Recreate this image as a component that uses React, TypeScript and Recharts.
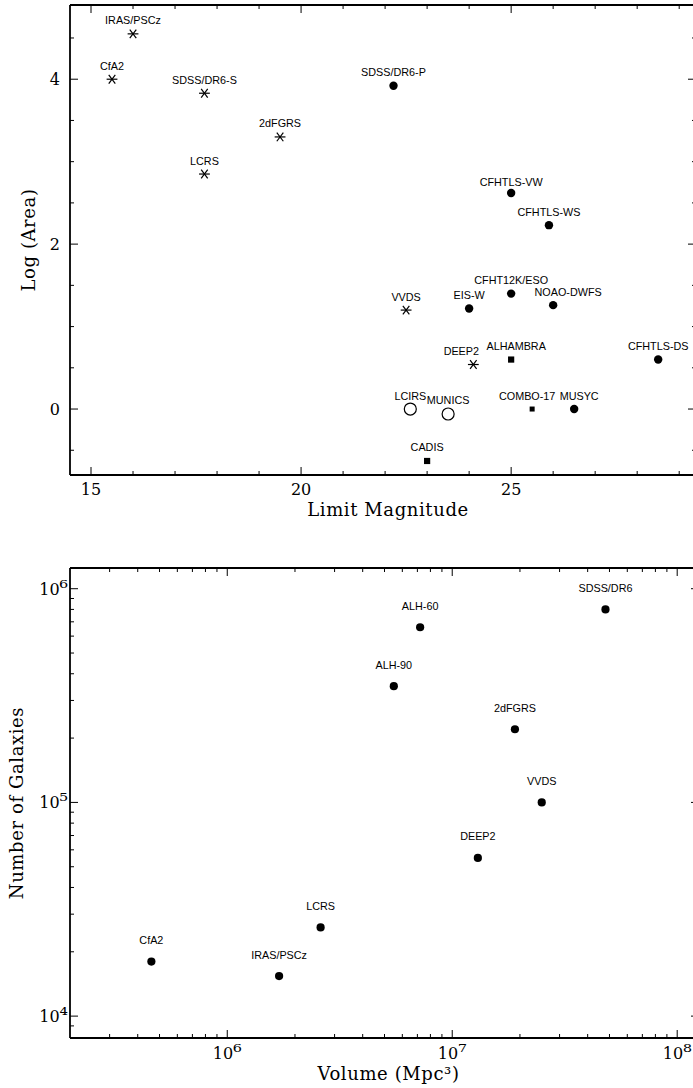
import React from 'react';
import { ScatterChart, Scatter, XAxis, YAxis } from 'recharts';

// ---------------- Top panel: limit magnitude vs log(area) ----------------
const spectroNames = ['IRAS/PSCz', 'CfA2', 'SDSS/DR6-S', '2dFGRS', 'LCRS', 'VVDS', 'DEEP2'];
const spectroMag = [16.0, 15.5, 17.7, 19.5, 17.7, 22.5, 24.1];
const spectroLogArea = [4.55, 4.0, 3.83, 3.3, 2.85, 1.2, 0.54];

const broadNames = ['SDSS/DR6-P', 'CFHTLS-VW', 'CFHTLS-WS', 'EIS-W', 'CFHT12K/ESO', 'NOAO-DWFS', 'CFHTLS-DS', 'MUSYC'];
const broadMag = [22.2, 25.0, 25.9, 24.0, 25.0, 26.0, 28.5, 26.5];
const broadLogArea = [3.92, 2.62, 2.23, 1.22, 1.4, 1.26, 0.6, 0.0];

const mediumNames = ['ALHAMBRA', 'COMBO-17', 'CADIS'];
const mediumMag = [25.0, 25.5, 23.0];
const mediumLogArea = [0.6, 0.0, -0.63];

const nirNames = ['LCIRS', 'MUNICS'];
const nirMag = [22.6, 23.5];
const nirLogArea = [0.0, -0.06];

const magDomain = [14.5, 29.4];
const magTicks = [15, 16, 17, 18, 19, 20, 21, 22, 23, 24, 25, 26, 27, 28, 29];
const magMajor = [15, 20, 25];
const magLabels = ['15', '20', '25'];

const areaDomain = [-0.8, 4.9];
const areaTicks = [-0.5, 0, 0.5, 1, 1.5, 2, 2.5, 3, 3.5, 4, 4.5];
const areaMajor = [0, 2, 4];
const areaLabels = ['0', '2', '4'];

// ---------------- Bottom panel: volume vs number of galaxies ----------------
const volNames = ['CfA2', 'IRAS/PSCz', 'LCRS', 'ALH-90', 'ALH-60', 'SDSS/DR6', '2dFGRS', 'VVDS', 'DEEP2'];
const volume = [4.6e5, 1.7e6, 2.6e6, 5.5e6, 7.2e6, 4.8e7, 1.9e7, 2.5e7, 1.3e7];
const galaxies = [1.8e4, 1.54e4, 2.6e4, 3.5e5, 6.6e5, 8.0e5, 2.2e5, 1.0e5, 5.5e4];

const volDomain = [2e5, 1.25e8];
const volTicks = [
  3e5, 4e5, 5e5, 6e5, 7e5, 8e5, 9e5, 1e6,
  2e6, 3e6, 4e6, 5e6, 6e6, 7e6, 8e6, 9e6, 1e7,
  2e7, 3e7, 4e7, 5e7, 6e7, 7e7, 8e7, 9e7, 1e8,
];
const volMajor = [1e6, 1e7, 1e8];
const volLabelBase = ['10', '10', '10'];
const volLabelExp = ['⁶', '⁷', '⁸'];

const galDomain = [7.9e3, 1.25e6];
const galTicks = [
  9e3, 1e4, 2e4, 3e4, 4e4, 5e4, 6e4, 7e4, 8e4, 9e4, 1e5,
  2e5, 3e5, 4e5, 5e5, 6e5, 7e5, 8e5, 9e5, 1e6,
];
const galMajor = [1e4, 1e5, 1e6];
const galLabelBase = ['10', '10', '10'];
const galLabelExp = ['⁴', '⁵', '⁶'];

// ---------------- styling / layout ----------------
const SERIF = "'DejaVu Serif', 'Liberation Serif', serif";
const SANS = "'Liberation Sans', Arial, Helvetica, sans-serif";
const axisLine = { stroke: '#000', strokeWidth: 1.8 };

const topLabelDx: Record<string, number> = {
  'NOAO-DWFS': 15,
  DEEP2: -12,
  ALHAMBRA: 5,
  'COMBO-17': -5,
  MUSYC: 5,
};
const topLabelDy: Record<string, number> = { 'CFHTLS-VW': -7 };
const smallSquares: Record<string, boolean> = { 'COMBO-17': true };

const zip = (names: string[], xs: number[], ys: number[]) =>
  names.map((name, i) => ({ name, x: xs[i], y: ys[i] }));

const spectroData = zip(spectroNames, spectroMag, spectroLogArea);
const broadData = zip(broadNames, broadMag, broadLogArea);
const mediumData = zip(mediumNames, mediumMag, mediumLogArea);
const nirData = zip(nirNames, nirMag, nirLogArea);
const volData = zip(volNames, volume, galaxies);

type Side = 'bottom' | 'top' | 'left' | 'right';

const findMajor = (majors: number[], v: number) =>
  majors.findIndex((m) => Math.abs(m - v) <= 1e-6 * Math.max(1, Math.abs(m)));

const makeTick =
  (side: Side, majors: number[], base: string[] | null, exp: string[] | null, labelOffset: number) =>
  (props: any) => {
    const { x, y, payload } = props;
    const idx = findMajor(majors, payload.value);
    const len = idx >= 0 ? 8 : 4;
    let line: React.ReactNode = null;
    if (side === 'bottom') line = <line x1={x} y1={y} x2={x} y2={y - len} />;
    if (side === 'top') line = <line x1={x} y1={y} x2={x} y2={y + len} />;
    if (side === 'left') line = <line x1={x} y1={y} x2={x + len} y2={y} />;
    if (side === 'right') line = <line x1={x} y1={y} x2={x - len} y2={y} />;
    let text: React.ReactNode = null;
    if (base && idx >= 0) {
      const content = (
        <>
          {base[idx]}
          {exp ? <tspan fontSize={21}>{exp[idx]}</tspan> : null}
        </>
      );
      if (side === 'bottom') {
        text = (
          <text x={x} y={y + labelOffset} textAnchor="middle" fontFamily={SERIF} fontSize={16} fill="#000" stroke="none">
            {content}
          </text>
        );
      } else if (side === 'left') {
        text = (
          <text x={x - (exp ? 2 : 10)} y={y + labelOffset} textAnchor="end" fontFamily={SERIF} fontSize={16} fill="#000" stroke="none">
            {content}
          </text>
        );
      }
    }
    return (
      <g stroke="#000" strokeWidth={1}>
        {line}
        {text}
      </g>
    );
  };

const labelText = (cx: number, cy: number, name: string, dx: number, dy: number) => (
  <text x={cx + dx} y={cy + dy} textAnchor="middle" fontFamily={SANS} fontSize={10.8} fill="#000">
    {name}
  </text>
);

const topLabel = (cx: number, cy: number, name: string) =>
  labelText(cx, cy, name, topLabelDx[name] ?? 0, topLabelDy[name] ?? -9.5);

const StarShape = (props: any) => {
  const { cx, cy, payload } = props;
  const r = 5.4;
  const a = r * Math.cos(Math.PI / 3.4);
  const b = r * Math.sin(Math.PI / 3.4);
  return (
    <g>
      <g stroke="#000" strokeWidth={1.2}>
        <line x1={cx - r} y1={cy} x2={cx + r} y2={cy} />
        <line x1={cx - a} y1={cy - b} x2={cx + a} y2={cy + b} />
        <line x1={cx - a} y1={cy + b} x2={cx + a} y2={cy - b} />
      </g>
      {topLabel(cx, cy, payload.name)}
    </g>
  );
};

const DotShape = (props: any) => {
  const { cx, cy, payload } = props;
  return (
    <g>
      <circle cx={cx} cy={cy} r={4.2} fill="#000" />
      {topLabel(cx, cy, payload.name)}
    </g>
  );
};

const SquareShape = (props: any) => {
  const { cx, cy, payload } = props;
  const s = smallSquares[payload.name] ? 5 : 6.2;
  return (
    <g>
      <rect x={cx - s / 2} y={cy - s / 2} width={s} height={s} fill="#000" />
      {topLabel(cx, cy, payload.name)}
    </g>
  );
};

const RingShape = (props: any) => {
  const { cx, cy, payload } = props;
  return (
    <g>
      <circle cx={cx} cy={cy} r={6} fill="#fff" stroke="#000" strokeWidth={1.2} />
      {topLabel(cx, cy, payload.name)}
    </g>
  );
};

const VolDotShape = (props: any) => {
  const { cx, cy, payload } = props;
  return (
    <g>
      <circle cx={cx} cy={cy} r={4.1} fill="#000" />
      {labelText(cx, cy, payload.name, 0, -17.5)}
    </g>
  );
};

const Empty = () => <g />;

const axisCommon = {
  type: 'number' as const,
  allowDataOverflow: true,
  interval: 0 as const,
  tickLine: false,
  tickSize: 0,
  tickMargin: 0,
  axisLine,
};

const TopChart = () => (
  <ScatterChart width={700} height={530} margin={{ top: 0, right: 0, bottom: 0, left: 0 }}>
    <XAxis
      {...axisCommon}
      xAxisId="b"
      dataKey="x"
      domain={magDomain}
      ticks={magTicks}
      height={55}
      tick={makeTick('bottom', magMajor, magLabels, null, 20)}
      label={{
        value: 'Limit Magnitude',
        position: 'insideBottom',
        offset: 14,
        dx: 5,
        fontFamily: SERIF,
        fontSize: 18,
        letterSpacing: 0.6,
        fill: '#000',
      }}
    />
    <XAxis
      {...axisCommon}
      xAxisId="t"
      orientation="top"
      dataKey="x"
      domain={magDomain}
      ticks={magTicks}
      height={5}
      tick={makeTick('top', magMajor, null, null, 0)}
    />
    <YAxis
      {...axisCommon}
      yAxisId="l"
      dataKey="y"
      domain={areaDomain}
      ticks={areaTicks}
      width={70}
      tick={makeTick('left', areaMajor, areaLabels, null, 6)}
      label={{
        value: 'Log (Area)',
        position: 'center',
        angle: -90,
        dx: -6,
        textAnchor: 'middle',
        fontFamily: SERIF,
        fontSize: 18,
        letterSpacing: 0.6,
        fill: '#000',
      }}
    />
    <YAxis
      {...axisCommon}
      yAxisId="r"
      orientation="right"
      dataKey="y"
      domain={areaDomain}
      ticks={areaTicks}
      width={4}
      tick={makeTick('right', areaMajor, null, null, 0)}
    />
    <Scatter xAxisId="b" yAxisId="l" data={spectroData} shape={StarShape} isAnimationActive={false} />
    <Scatter xAxisId="b" yAxisId="l" data={broadData} shape={DotShape} isAnimationActive={false} />
    <Scatter xAxisId="b" yAxisId="l" data={mediumData} shape={SquareShape} isAnimationActive={false} />
    <Scatter xAxisId="b" yAxisId="l" data={nirData} shape={RingShape} isAnimationActive={false} />
    <Scatter xAxisId="t" yAxisId="r" data={spectroData} shape={Empty} isAnimationActive={false} />
  </ScatterChart>
);

const BottomChart = () => (
  <ScatterChart width={700} height={548} margin={{ top: 0, right: 0, bottom: 0, left: 0 }}>
    <XAxis
      {...axisCommon}
      xAxisId="b"
      dataKey="x"
      scale="log"
      domain={volDomain}
      ticks={volTicks}
      height={50}
      tick={makeTick('bottom', volMajor, volLabelBase, volLabelExp, 21)}
      label={{
        value: 'Volume (Mpc³)',
        position: 'insideBottom',
        offset: 8,
        dx: 4,
        fontFamily: SERIF,
        fontSize: 18,
        letterSpacing: 0.6,
        fill: '#000',
      }}
    />
    <XAxis
      {...axisCommon}
      xAxisId="t"
      orientation="top"
      dataKey="x"
      scale="log"
      domain={volDomain}
      ticks={volTicks}
      height={28}
      tick={makeTick('top', volMajor, null, null, 0)}
    />
    <YAxis
      {...axisCommon}
      yAxisId="l"
      dataKey="y"
      scale="log"
      domain={galDomain}
      ticks={galTicks}
      width={70}
      tick={makeTick('left', galMajor, galLabelBase, galLabelExp, 6)}
      label={{
        value: 'Number of Galaxies',
        position: 'center',
        angle: -90,
        dx: -18,
        textAnchor: 'middle',
        fontFamily: SERIF,
        fontSize: 18,
        letterSpacing: 0.6,
        fill: '#000',
      }}
    />
    <YAxis
      {...axisCommon}
      yAxisId="r"
      orientation="right"
      dataKey="y"
      scale="log"
      domain={galDomain}
      ticks={galTicks}
      width={1}
      tick={makeTick('right', galMajor, null, null, 0)}
    />
    <Scatter xAxisId="b" yAxisId="l" data={volData} shape={VolDotShape} isAnimationActive={false} />
    <Scatter xAxisId="t" yAxisId="r" data={volData} shape={Empty} isAnimationActive={false} />
  </ScatterChart>
);

export default function App() {
  return (
    <div
      style={{
        position: 'absolute',
        left: 0,
        top: 0,
        width: 693,
        height: 1088,
        overflow: 'hidden',
        background: '#fff',
      }}
    >
      <div style={{ position: 'absolute', left: 0, top: 0 }}>
        <TopChart />
      </div>
      <div style={{ position: 'absolute', left: 0, top: 540 }}>
        <BottomChart />
      </div>
    </div>
  );
}
